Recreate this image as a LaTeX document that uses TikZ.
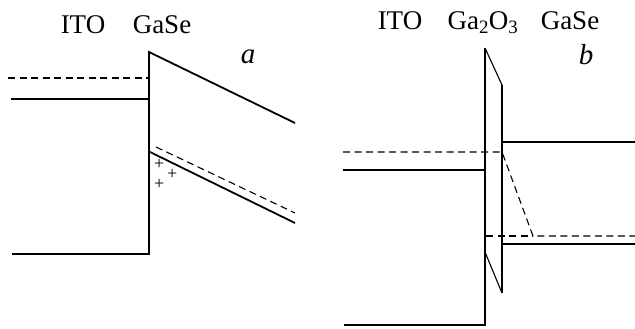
\documentclass[tikz,border=0pt]{standalone}
\usepackage{fontspec}
\setmainfont{Liberation Serif}
\begin{document}
\begin{tikzpicture}[x=1pt,y=-1pt,
  thick line/.style={line width=1.8pt,line cap=butt},
  thin line/.style={line width=1.1pt},
  dash line/.style={line width=1.1pt,dash pattern=on 7pt off 4.5pt},
  lbl/.style={font=\fontsize{27}{32}\selectfont,inner sep=0pt},
  plus/.style={font=\fontsize{18}{18}\selectfont,inner sep=0pt,text height=9pt,text depth=0pt,text width=10pt,align=center}]
\useasboundingbox (0,0) rectangle (635,329);
% ---- panel a ----
\node[lbl] (itoa) at (83,25) {ITO};
\node[lbl] (gasea) at (162,25) {GaSe};
\node[lbl,font=\fontsize{29}{32}\selectfont\itshape] (la) at (248,57) {a};
\coordinate (a1) at (8,78);
\coordinate (a2) at (149,78);
\coordinate (a3) at (11,99);
\coordinate (a4) at (149,99);
\coordinate (atop) at (149,52);
\coordinate (abot) at (149,254);
\coordinate (a5) at (12,254);
\coordinate (a6) at (295,123);
\coordinate (a7) at (150,152);
\coordinate (a8) at (295,223);
\coordinate (a9) at (156,147);
\coordinate (a10) at (295,213);
\draw[dash line] (a1) -- (a2);
\draw[thick line] (a3) -- (a4);
\draw[thick line] (a5) -- (abot) -- (atop) -- (a6);
\draw[thick line] (a7) -- (a8);
\draw[dash line] (a9) -- (a10);
\node[plus] (p1) at (159,165) {+};
\node[plus] (p2) at (172,175) {+};
\node[plus] (p3) at (159,185) {+};
% ---- panel b ----
\node[lbl] (itob) at (400,21) {ITO};
\node[lbl] (gaob) at (483,23) {Ga\textsubscript{2}O\textsubscript{3}};
\node[lbl] (gaseb) at (570,21) {GaSe};
\node[lbl,font=\fontsize{29}{32}\selectfont\itshape] (lb) at (586,55) {b};
\coordinate (b1) at (485,48);
\coordinate (b2) at (502,85);
\coordinate (b3) at (485,252);
\coordinate (b4) at (502,293);
\coordinate (b5) at (485,325);
\coordinate (b6) at (344,325);
\coordinate (b7) at (343,152);
\coordinate (b8) at (502,152);
\coordinate (b9) at (533,236);
\coordinate (b10) at (635,236);
\coordinate (b11) at (486,236);
\coordinate (b12) at (343,170);
\coordinate (b13) at (485,170);
\coordinate (b14) at (502,142);
\coordinate (b15) at (635,142);
\coordinate (b16) at (502,244);
\coordinate (b17) at (635,244);
\draw[thick line] (b6) -- (b5) -- (b1);
\draw[thin line] (b1) -- (b2);
\draw[thick line] (b2) -- (b4);
\draw[thin line] (b3) -- (b4);
\draw[dash line] (b7) -- (b8) -- (b9) -- (b10);
\draw[dash line] (b11) -- (b9);
\draw[thick line] (b12) -- (b13);
\draw[thick line] (b14) -- (b15);
\draw[thick line] (b16) -- (b17);
\end{tikzpicture}
\end{document}
